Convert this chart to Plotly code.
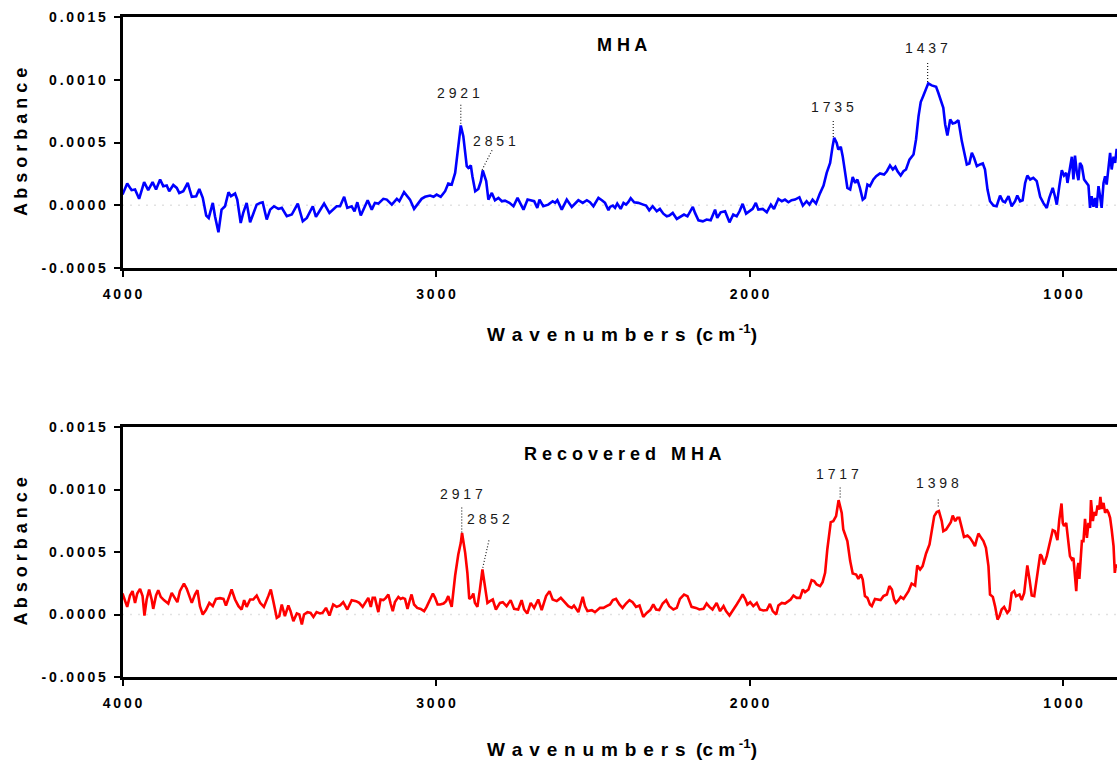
import plotly.graph_objects as go

# ---------------- data ----------------
mha_wavenumber = [
    4000,3985,3971,3960,3947,3931,3918,3904,3893,3880,3870,3859,3851,3838,3827,3819,3806,3792,3779,3765,
    3755,3744,3733,3725,3712,3705,3694,3684,3673,3662,3654,3641,3634,3623,3615,3604,3593,3583,3572,3561,
    3553,3540,3529,3517,3503,3492,3476,3460,3441,3425,3412,3393,3383,3372,3357,3340,3327,3317,3306,3293,
    3283,3269,3260,3251,3240,3230,3218,3205,3195,3184,3168,3157,3141,3125,3117,3102,3091,3083,3070,3056,
    3046,3035,3019,3008,2998,2985,2971,2961,2950,2939,2929,2921,2913,2902,2897,2889,2884,2875,2865,2857,
    2851,2840,2833,2822,2812,2801,2790,2780,2766,2753,2740,2732,2721,2708,2698,2687,2677,2670,2658,2642,
    2628,2620,2613,2599,2583,2567,2546,2532,2519,2509,2498,2482,2471,2461,2450,
    2445,2436,2429,2422,2411,2402,2394,2387,2379,2368,2355,2339,2330,2320,2309,2296,2286,2275,2264,2256,
    2245,2232,2222,2209,2198,2190,2181,2174,2163,2149,2137,2124,2110,2103,2092,2078,2064,2052,2041,2032,
    2022,2011,2001,1990,1980,1972,1958,1945,1932,1922,1908,1897,1887,1876,1866,1855,1841,1830,1818,1809,
    1799,1788,1777,1764,1754,1743,1735,1730,1722,1717,1709,1703,1695,1688,1679,1671,1663,1656,1648,1639,
    1632,1624,1616,1605,1596,1584,1571,1562,1552,1543,1535,1528,1518,1509,1501,1490,1477,1469,1461,1454,
    1446,1437,1430,1419,1405,1398,1390,1382,1376,1369,1360,1352,1344,1334,1323,1316,1307,1299,1291,1284,
    1275,1265,1256,1249,1241,1233,1222,1212,1201,1192,1185,1174,1164,1153,1146,1137,1129,1121,1114,1105,
    1095,1084,1073,1063,1052,1044,1033,1026,1020,1012,1004,997,990,986,980,972,967,962,956,951,
    946,940,933,927,919,914,909,903,898,893,887,882,877,871,866,861,855,850,845,839,834,829,
]
mha_absorbance = [
    0.85e-4,1.73e-4,1.20e-4,1.25e-4,0.51e-4,1.84e-4,1.20e-4,1.84e-4,1.25e-4,2.05e-4,
    1.52e-4,1.57e-4,1.12e-4,1.62e-4,1.38e-4,0.98e-4,1.12e-4,1.78e-4,0.67e-4,0.72e-4,
    1.30e-4,0.59e-4,-0.82e-4,-1.01e-4,0.19e-4,-0.88e-4,-2.15e-4,-0.35e-4,-0.08e-4,1.04e-4,
    0.72e-4,0.93e-4,0.45e-4,-1.41e-4,-0.61e-4,0.19e-4,-1.36e-4,-0.61e-4,0.05e-4,0.19e-4,
    0.24e-4,-1.14e-4,-0.35e-4,-0.08e-4,-0.29e-4,-0.21e-4,-0.88e-4,-0.74e-4,0.13e-4,-1.28e-4,
    -1.01e-4,-0.08e-4,-0.93e-4,-0.48e-4,0.13e-4,-0.61e-4,-0.35e-4,-0.08e-4,-0.08e-4,0.67e-4,
    -0.21e-4,-0.08e-4,-0.48e-4,0.24e-4,-0.82e-4,-0.21e-4,0.40e-4,-0.35e-4,0.19e-4,0.13e-4,
    0.51e-4,0.45e-4,0.05e-4,0.51e-4,0.32e-4,1.04e-4,0.67e-4,0.45e-4,-0.29e-4,0.24e-4,
    0.51e-4,0.67e-4,0.77e-4,0.67e-4,0.85e-4,0.67e-4,1.12e-4,1.73e-4,1.65e-4,2.58e-4,
    4.71e-4,6.36e-4,5.51e-4,3.11e-4,2.98e-4,3.17e-4,2.31e-4,1.12e-4,1.30e-4,1.92e-4,
    2.77e-4,1.92e-4,0.45e-4,0.98e-4,0.40e-4,0.59e-4,0.32e-4,0.37e-4,0.19e-4,-0.08e-4,
    0.59e-4,0.19e-4,-0.35e-4,0.45e-4,0.40e-4,0.32e-4,-0.21e-4,0.45e-4,-0.08e-4,0.05e-4,
    0.32e-4,0.19e-4,0.40e-4,-0.35e-4,0.45e-4,-0.13e-4,0.40e-4,0.19e-4,0.40e-4,0.24e-4,
    -0.08e-4,0.59e-4,0.40e-4,0.19e-4,-0.40e-4,
    -0.13e-4,-0.03e-4,-0.21e-4,0.13e-4,-0.29e-4,0.19e-4,0.05e-4,0.24e-4,0.56e-4,0.24e-4,
    0.19e-4,0.05e-4,-0.03e-4,-0.40e-4,-0.08e-4,-0.48e-4,-0.29e-4,-0.67e-4,-0.88e-4,-0.82e-4,
    -0.61e-4,-1.09e-4,-0.93e-4,-0.74e-4,-0.88e-4,-0.56e-4,-0.13e-4,-0.61e-4,-1.20e-4,-1.28e-4,
    -1.14e-4,-1.20e-4,-0.35e-4,-1.01e-4,-0.56e-4,-0.48e-4,-1.36e-4,-0.74e-4,-0.88e-4,-0.48e-4,
    0.11e-4,-0.67e-4,-0.48e-4,-0.29e-4,0.19e-4,-0.35e-4,-0.29e-4,-0.56e-4,0.05e-4,-0.29e-4,
    0.51e-4,0.32e-4,0.45e-4,0.24e-4,0.40e-4,0.45e-4,0.64e-4,-0.03e-4,0.32e-4,0.05e-4,
    0.45e-4,0.13e-4,0.85e-4,1.57e-4,2.58e-4,3.38e-4,4.71e-4,5.37e-4,4.97e-4,4.44e-4,
    4.66e-4,3.91e-4,2.58e-4,1.38e-4,1.25e-4,2.26e-4,1.78e-4,2.05e-4,1.38e-4,0.45e-4,
    0.59e-4,1.65e-4,1.52e-4,2.05e-4,2.31e-4,2.53e-4,2.45e-4,2.71e-4,3.17e-4,2.85e-4,
    3.06e-4,2.71e-4,2.37e-4,2.71e-4,2.85e-4,3.64e-4,4.04e-4,5.24e-4,7.10e-4,8.22e-4,
    8.70e-4,9.36e-4,9.71e-4,9.55e-4,9.44e-4,8.96e-4,8.30e-4,7.77e-4,6.44e-4,5.56e-4,
    6.84e-4,6.52e-4,6.57e-4,6.78e-4,5.11e-4,4.18e-4,3.25e-4,3.33e-4,4.18e-4,3.78e-4,
    3.11e-4,3.25e-4,3.33e-4,2.85e-4,1.25e-4,0.32e-4,-0.03e-4,-0.08e-4,0.77e-4,0.32e-4,
    0.24e-4,0.72e-4,-0.08e-4,0.32e-4,0.77e-4,0.32e-4,0.40e-4,1.78e-4,2.37e-4,2.05e-4,
    2.18e-4,1.92e-4,0.67e-4,0.19e-4,-0.21e-4,0.59e-4,1.38e-4,0.72e-4,0.05e-4,1.52e-4,
    2.79e-4,2.37e-4,2.58e-4,1.78e-4,2.85e-4,3.86e-4,2.05e-4,3.96e-4,2.58e-4,2.00e-4,
    3.38e-4,3.11e-4,2.05e-4,1.84e-4,1.57e-4,-0.21e-4,0.72e-4,-0.13e-4,0.59e-4,-0.21e-4,
    1.52e-4,0.72e-4,-0.21e-4,1.78e-4,2.31e-4,1.65e-4,3.11e-4,4.18e-4,2.85e-4,3.86e-4,
    3.38e-4,4.50e-4,
]

recovered_wavenumber = [
    4000,3992,3985,3976,3968,3960,3953,3944,3936,3930,3923,3915,3907,3902,3893,3886,3878,3868,3854,3843,
    3833,3825,3817,3804,3795,3787,3779,3769,3761,3753,3744,3734,3723,3712,3702,3689,3678,3670,3659,3652,
    3641,3630,3620,3612,3604,3593,3583,3572,3561,3549,3535,3527,3519,3508,3500,3492,3482,3471,3464,3455,
    3444,3436,3428,3421,3410,3400,3391,3381,3370,3362,3351,3340,3328,3317,3306,3296,3283,3269,3255,3245,
    3234,3221,3216,3208,3202,3195,3184,3177,3168,3160,3152,3145,3138,3131,3120,3113,3106,3099,3091,3083,
    3078,3070,3060,3049,3038,3030,3019,3010,3003,2995,2987,2976,2968,2961,2950,2939,2929,2921,2917,2907,
    2900,2894,2886,2881,2876,2868,2860,2852,2844,2836,2828,2819,2809,2796,2787,2775,2762,2751,2738,2727,
    2719,2709,2698,2687,2674,2663,2649,2638,2628,2615,2602,2588,2578,2567,2560,2546,2532,2525,2517,2503,
    2493,2477,2466,2456,
    2445,2436,2426,2415,2405,2394,2383,2373,2362,2351,2339,2328,2317,2307,2298,2288,2277,2266,2256,2243,
    2232,2222,2209,2198,2185,2171,2160,2147,2137,2128,2118,2105,2094,2083,2075,2064,2054,2041,2030,2022,
    2014,2007,1998,1988,1977,1967,1956,1945,1935,1926,1915,1908,1897,1887,1876,1869,1860,1850,1839,1830,
    1823,1812,1802,1794,1786,1775,1767,1759,1752,1745,1741,1733,1724,1716,1706,1701,1695,1688,1679,1671,
    1660,1653,1645,1639,1632,1624,1616,1610,1600,1589,1582,1573,1562,1554,1546,1539,1533,1525,1518,1509,
    1501,1493,1483,1472,1465,1456,1448,1437,1426,1419,1411,1403,1396,1387,1382,1373,1366,1358,1352,1344,
    1337,1331,1323,1316,1305,1297,1288,1281,1275,1270,1263,1254,1246,1238,1233,1224,1217,1209,1203,1196,
    1188,1178,1171,1164,1156,1150,1139,1132,1124,1118,1114,1107,1100,1092,1084,1073,1068,1061,1052,1044,
    1033,1026,1018,1012,1005,1001,997,990,983,978,972,967,962,958,954,951,948,944,940,935,
    930,924,919,914,911,905,901,895,890,885,881,877,871,866,861,855,850,845,839,835,831,828,
]
recovered_absorbance = [
    1.68e-4,1.07e-4,0.61e-4,1.52e-4,1.87e-4,0.93e-4,1.68e-4,2.05e-4,1.47e-4,-0.08e-4,
    1.20e-4,2.00e-4,1.20e-4,0.45e-4,1.52e-4,1.95e-4,1.41e-4,1.15e-4,0.88e-4,1.73e-4,
    1.33e-4,0.99e-4,1.87e-4,2.48e-4,2.05e-4,1.52e-4,0.93e-4,1.60e-4,1.95e-4,0.67e-4,
    0.00e-4,0.35e-4,0.93e-4,0.67e-4,1.25e-4,1.31e-4,1.25e-4,0.72e-4,1.47e-4,2.00e-4,
    1.20e-4,0.67e-4,0.40e-4,1.15e-4,0.61e-4,1.20e-4,1.20e-4,1.52e-4,0.93e-4,0.61e-4,
    1.47e-4,2.00e-4,1.07e-4,-0.27e-4,-0.13e-4,0.80e-4,-0.13e-4,0.72e-4,0.27e-4,-0.53e-4,
    0.08e-4,0.00e-4,-0.80e-4,0.00e-4,0.19e-4,0.13e-4,-0.19e-4,0.19e-4,0.08e-4,0.13e-4,
    0.53e-4,-0.08e-4,0.80e-4,0.61e-4,0.72e-4,0.99e-4,0.40e-4,1.15e-4,1.07e-4,0.93e-4,
    0.61e-4,1.20e-4,1.33e-4,0.61e-4,1.33e-4,1.33e-4,0.19e-4,1.20e-4,1.15e-4,1.33e-4,
    1.60e-4,0.88e-4,0.27e-4,0.99e-4,1.41e-4,1.25e-4,1.33e-4,1.25e-4,0.45e-4,1.20e-4,
    1.60e-4,0.80e-4,0.53e-4,0.45e-4,0.27e-4,0.61e-4,1.20e-4,1.68e-4,1.33e-4,0.80e-4,
    0.80e-4,0.88e-4,1.07e-4,1.47e-4,0.61e-4,3.12e-4,4.80e-4,5.73e-4,6.53e-4,4.93e-4,
    3.33e-4,1.25e-4,1.41e-4,1.68e-4,0.93e-4,0.61e-4,2.00e-4,3.60e-4,2.27e-4,0.93e-4,
    1.07e-4,1.20e-4,0.40e-4,0.93e-4,0.99e-4,0.67e-4,1.15e-4,0.45e-4,0.40e-4,1.15e-4,
    0.40e-4,0.08e-4,0.93e-4,0.53e-4,1.20e-4,0.35e-4,1.47e-4,1.87e-4,1.20e-4,1.07e-4,
    1.33e-4,0.99e-4,0.67e-4,0.53e-4,0.72e-4,0.19e-4,1.41e-4,0.67e-4,0.27e-4,0.35e-4,
    0.19e-4,0.53e-4,0.53e-4,0.67e-4,
    0.80e-4,1.15e-4,1.25e-4,0.80e-4,0.53e-4,0.88e-4,1.15e-4,0.99e-4,0.61e-4,0.72e-4,
    -0.19e-4,0.13e-4,0.35e-4,0.80e-4,0.40e-4,0.35e-4,0.88e-4,1.15e-4,0.67e-4,0.40e-4,
    0.53e-4,1.25e-4,1.60e-4,1.47e-4,0.61e-4,0.53e-4,0.40e-4,0.45e-4,0.88e-4,0.61e-4,
    0.40e-4,0.93e-4,0.27e-4,0.67e-4,0.27e-4,-0.08e-4,0.35e-4,0.80e-4,1.25e-4,1.60e-4,
    1.25e-4,0.80e-4,0.99e-4,0.67e-4,0.93e-4,0.40e-4,0.32e-4,0.35e-4,0.85e-4,0.27e-4,
    0.00e-4,0.72e-4,0.93e-4,0.88e-4,1.07e-4,1.20e-4,1.52e-4,1.33e-4,1.33e-4,2.00e-4,
    1.79e-4,2.00e-4,2.75e-4,2.67e-4,2.40e-4,2.27e-4,2.59e-4,3.33e-4,5.20e-4,6.80e-4,
    7.39e-4,7.47e-4,7.87e-4,9.15e-4,8.13e-4,6.80e-4,6.40e-4,5.87e-4,4.27e-4,3.28e-4,
    3.20e-4,2.85e-4,3.20e-4,2.80e-4,1.47e-4,1.33e-4,0.80e-4,0.67e-4,1.25e-4,1.20e-4,
    1.15e-4,1.47e-4,1.60e-4,2.27e-4,2.00e-4,1.20e-4,0.93e-4,1.15e-4,1.41e-4,1.25e-4,
    1.60e-4,1.87e-4,2.48e-4,2.32e-4,3.92e-4,3.60e-4,3.87e-4,4.88e-4,5.60e-4,6.67e-4,
    7.87e-4,8.19e-4,8.27e-4,7.47e-4,6.67e-4,6.80e-4,7.07e-4,7.39e-4,7.92e-4,7.47e-4,
    7.73e-4,7.73e-4,6.93e-4,6.21e-4,6.32e-4,6.13e-4,5.79e-4,5.47e-4,6.05e-4,6.48e-4,
    6.21e-4,5.87e-4,5.33e-4,3.87e-4,1.60e-4,1.41e-4,0.67e-4,-0.40e-4,-0.13e-4,0.40e-4,
    0.61e-4,0.13e-4,0.35e-4,1.73e-4,1.87e-4,1.47e-4,1.60e-4,1.15e-4,1.73e-4,3.33e-4,
    3.92e-4,2.80e-4,1.52e-4,1.47e-4,2.80e-4,4.80e-4,4.67e-4,4.00e-4,4.67e-4,5.60e-4,
    6.75e-4,6.67e-4,5.95e-4,7.60e-4,8.88e-4,7.33e-4,7.07e-4,7.33e-4,5.87e-4,4.67e-4,
    4.40e-4,4.53e-4,3.07e-4,1.87e-4,3.73e-4,4.13e-4,2.85e-4,4.40e-4,5.87e-4,5.87e-4,
    7.65e-4,6.13e-4,7.33e-4,6.93e-4,9.15e-4,7.47e-4,8.19e-4,7.92e-4,8.72e-4,8.40e-4,
    9.41e-4,8.45e-4,8.93e-4,8.13e-4,8.40e-4,8.13e-4,7.73e-4,6.80e-4,5.47e-4,3.33e-4,
    4.00e-4,3.73e-4,
]

mha_peak_labels = ["2921", "2851", "1735", "1437"]
recovered_peak_labels = ["2917", "2852", "1717", "1398"]
panel_titles = ["MHA", "Recovered MHA"]
y_tick_values = [-0.0005, 0.0, 0.0005, 0.0010, 0.0015]
y_tick_labels = ["-0.0005", "0.0000", "0.0005", "0.0010", "0.0015"]
x_tick_values = [4000, 3000, 2000, 1000]
x_tick_labels = ["4000", "3000", "2000", "1000"]
y_title = "Absorbance"
x_title = "Wavenumbers"

# ---------------- helpers / styling ----------------
FONT = "Liberation Sans, Arial, Helvetica, sans-serif"


def spaced(s, gap=" "):
    # letter-spaced look of the original
    words = s.split(" ")
    return "\u00a0\u00a0\u00a0".join(gap.join(w) for w in words)


fig = go.Figure()
fig.add_trace(go.Scatter(x=mha_wavenumber, y=mha_absorbance, mode="lines",
                         line=dict(color="#0000FF", width=2.6), xaxis="x", yaxis="y",
                         showlegend=False, hoverinfo="skip"))
fig.add_trace(go.Scatter(x=recovered_wavenumber, y=recovered_absorbance, mode="lines",
                         line=dict(color="#FF0000", width=2.6), xaxis="x2", yaxis="y2",
                         showlegend=False, hoverinfo="skip"))

x_dom = [122.5 / 1117, 1.0]
top_dom = [1 - 268 / 760, 1 - 17 / 760]
bot_dom = [1 - 677 / 760, 1 - 427 / 760]

TICK_GAP = "\u2009"

xaxis_common = dict(
    range=[4000, 828], domain=x_dom, showgrid=False, zeroline=False, automargin=False,
    showline=True, linecolor="black", linewidth=2.6, mirror=True,
    ticks="outside", ticklen=6, tickwidth=2, tickcolor="black",
    tickvals=x_tick_values, ticktext=[spaced(t, TICK_GAP) for t in x_tick_labels],
    tickfont=dict(family=FONT, size=14, color="black", weight="bold"),
    ticklabelstandoff=5,
)
yaxis_common = dict(
    range=[-0.0005, 0.0015], showgrid=False, zeroline=False, automargin=False,
    showline=True, linecolor="black", linewidth=2.6,
    ticks="outside", ticklen=6, tickwidth=2, tickcolor="black",
    tickvals=y_tick_values, ticktext=[spaced(t, TICK_GAP) for t in y_tick_labels],
    tickfont=dict(family=FONT, size=14, color="black", weight="bold"),
    ticklabelstandoff=5,
)

fig.update_layout(
    template="none",
    width=1117, height=760, margin=dict(l=0, r=0, t=0, b=0, pad=0, autoexpand=False),
    paper_bgcolor="white", plot_bgcolor="white",
    xaxis=dict(**xaxis_common, anchor="y"),
    yaxis=dict(**yaxis_common, domain=top_dom, anchor="x"),
    xaxis2=dict(**xaxis_common, anchor="y2"),
    yaxis2=dict(**yaxis_common, domain=bot_dom, anchor="x2"),
)

shapes = []
# dotted zero lines
for xr, yr in (("x", "y"), ("x2", "y2")):
    shapes.append(dict(type="line", xref=xr, yref=yr, x0=4000, x1=828, y0=0, y1=0,
                       line=dict(color="#c4c4c4", width=1.5, dash="1px,7px"), layer="below"))

# peak labels and dotted leader lines
# (label x, label y, leader x0, y0, x1, y1)
mha_label_pos = [(2928, 8.95e-4, 2921, 6.5e-4, 2921, 8.07e-4),
                 (2812, 5.12e-4, 2853, 2.82e-4, 2821, 4.4e-4),
                 (1735, 7.79e-4, 1733, 5.44e-4, 1733, 6.87e-4),
                 (1435, 1.25e-3, 1432, 9.83e-4, 1432, 1.14e-3)]
rec_label_pos = [(2920, 9.64e-4, 2918, 6.56e-4, 2918, 8.72e-4),
                 (2834, 7.64e-4, 2851, 3.74e-4, 2830, 6.06e-4),
                 (1718, 1.124e-3, 1711, 9.36e-4, 1711, 1.016e-3),
                 (1400, 1.056e-3, 1398, 8.64e-4, 1398, 9.36e-4)]

annotations = []
for labels, pos, xr, yr in ((mha_peak_labels, mha_label_pos, "x", "y"),
                            (recovered_peak_labels, rec_label_pos, "x2", "y2")):
    for lab, (lx, ly, x0, y0, x1, y1) in zip(labels, pos):
        annotations.append(dict(x=lx, y=ly, xref=xr, yref=yr, text=spaced(lab), showarrow=False,
                                xanchor="center", yanchor="middle",
                                font=dict(family=FONT, size=14, color="#1a1a1a")))
        shapes.append(dict(type="line", xref=xr, yref=yr, x0=x0, y0=y0, x1=x1, y1=y1,
                           line=dict(color="#222222", width=1.2, dash="1px,2px")))

# panel titles
for title, yc in zip(panel_titles, (1 - 45 / 760, 1 - 454 / 760)):
    annotations.append(dict(x=622 / 1117, y=yc, xref="paper", yref="paper", text=spaced(title),
                            showarrow=False, xanchor="center", yanchor="middle",
                            font=dict(family=FONT, size=18, color="black", weight="bold")))

# axis titles
for yc in (1 - 142.5 / 760, 1 - 552 / 760):
    annotations.append(dict(x=20.5 / 1117, y=yc, xref="paper", yref="paper", text=spaced(y_title),
                            textangle=-90, showarrow=False, xanchor="center", yanchor="middle",
                            font=dict(family=FONT, size=18, color="black", weight="bold")))
x_title_text = spaced(x_title, " \u200a") + "\u00a0\u00a0(c m<sup> -1</sup>)"
for yc in (1 - 333 / 760, 1 - 748 / 760):
    annotations.append(dict(x=622 / 1117, y=yc, xref="paper", yref="paper",
                            text=x_title_text,
                            showarrow=False, xanchor="center", yanchor="middle",
                            font=dict(family=FONT, size=19, color="black", weight="bold")))

fig.update_layout(shapes=shapes, annotations=annotations)
fig.write_html("out.html")
